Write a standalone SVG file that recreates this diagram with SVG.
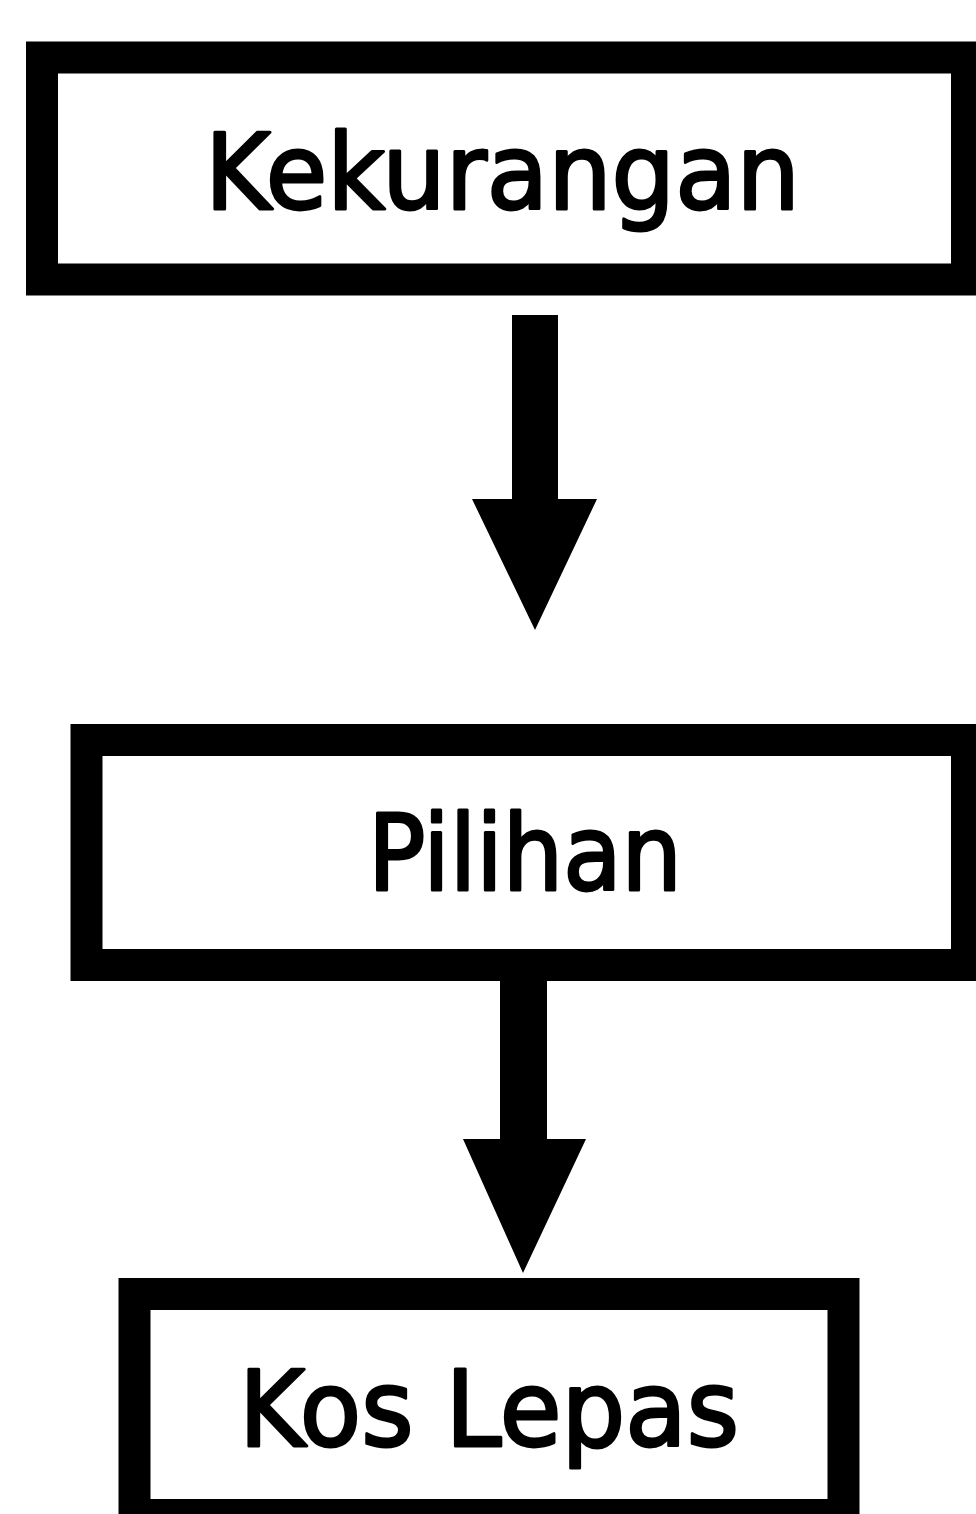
<svg xmlns="http://www.w3.org/2000/svg" width="976" height="1514" viewBox="0 0 976 1514">
<style>
.box{fill:#fff;stroke:#000;stroke-width:32}
.lbl{font-family:"DejaVu Sans","Noto Sans",sans-serif;font-size:105px;fill:#000;stroke:#000;stroke-width:3;stroke-linejoin:round}
.arr{fill:#000}
</style>
<rect x="0" y="0" width="976" height="1514" fill="#fff"/>
<g id="node-kekurangan">
<rect class="box" x="42" y="57.5" width="925" height="222"/>
<text class="lbl" x="205" y="209" textLength="595" lengthAdjust="spacingAndGlyphs">Kekurangan</text>
</g>
<g id="node-pilihan">
<rect class="box" x="86.5" y="740" width="880.5" height="225"/>
<text class="lbl" x="368" y="890" textLength="314" lengthAdjust="spacingAndGlyphs">Pilihan</text>
</g>
<g id="node-kos-lepas">
<rect class="box" x="134.5" y="1294" width="709" height="221"/>
<text class="lbl" x="239" y="1446" textLength="500" lengthAdjust="spacingAndGlyphs">Kos Lepas</text>
</g>
<g id="connectors">
<polygon class="arr" points="512,315 558,315 558,499 597,499 535,630 472,499 512,499"/>
<polygon class="arr" points="500,970 547,970 547,1139 586,1139 523,1273 463,1139 500,1139"/>
</g>
</svg>
